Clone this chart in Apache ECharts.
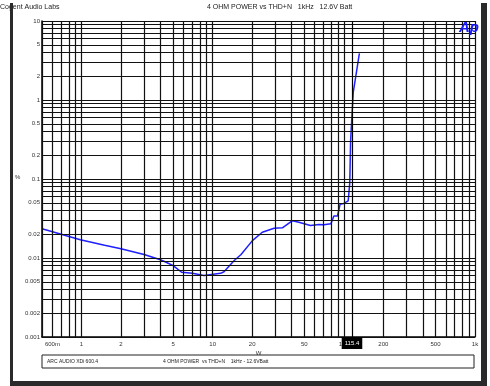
<!DOCTYPE html>
<html>
<head>
<meta charset="utf-8">
<script src="https://cdn.jsdelivr.net/npm/echarts@6/dist/echarts.min.js"></script>
<style>
html,body{margin:0;padding:0;background:#fff;}
#chart{width:490px;height:386px;}
</style>
</head>
<body>
<div id="chart"></div>
<script>
// ---- data ----
const powerW = [0.5, 0.98, 1.5, 2.0, 3.0, 4.0, 4.5, 5.0, 5.8, 7.0, 8.6, 11.5, 12.2, 14.6, 16.4, 20.1, 23.9, 29.4, 34.0, 40.6, 45.4, 55.7, 64.7, 70.5, 79.7, 84.0, 89.5, 93.7, 100, 108, 111, 112.6, 116.2, 118, 121.6, 131.4];
const thdPct = [0.0234, 0.017, 0.0145, 0.0131, 0.0111, 0.0095, 0.0087, 0.008, 0.0066, 0.0064, 0.006, 0.0064, 0.0067, 0.0093, 0.011, 0.0166, 0.0212, 0.0238, 0.0241, 0.0297, 0.0283, 0.0258, 0.0265, 0.0263, 0.0271, 0.034, 0.034, 0.048, 0.049, 0.053, 0.09, 0.3, 0.8, 1.25, 1.25, 3.9];

const xGridValues = [0.5,0.6,0.7,0.8,0.9,1,2,3,4,5,6,7,8,9,10,20,30,40,50,60,70,80,90,100,200,300,400,500,600,700,800,900,1000];
const yGridValues = [0.001,0.002,0.003,0.004,0.005,0.006,0.007,0.008,0.009,0.01,0.02,0.03,0.04,0.05,0.06,0.07,0.08,0.09,0.1,0.2,0.3,0.4,0.5,0.6,0.7,0.8,0.9,1,2,3,4,5,6,7,8,9,10];
const xTickValues = [0.6, 1, 2, 5, 10, 20, 50, 100, 200, 500, 1000];
const xTickLabels = ['600m', '1', '2', '5', '10', '20', '50', '100', '200', '500', '1k'];
const yTickValues = [10, 5, 2, 1, 0.5, 0.2, 0.1, 0.05, 0.02, 0.01, 0.005, 0.002, 0.001];
const yTickLabels = ['10', '5', '2', '1', '0.5', '0.2', '0.1', '0.05', '0.02', '0.01', '0.005', '0.002', '0.001'];
const cursorW = 115.4;
const cursorLabel = '115.4';

const titleLeft = 'Cogent Audio Labs';
const titleCenter = '4 OHM POWER vs THD+N   1kHz   12.6V Batt';
const footLeft = 'ARC AUDIO XDi 600.4';
const footCenter = '4 OHM POWER  vs THD+N    1kHz - 12.6VBatt';

// ---- build ----
const FONT = '"Liberation Sans", Arial, sans-serif';
const gridColor = '#111';

const markData = [];
xGridValues.forEach(v => {
  const i = xTickValues.indexOf(v);
  const d = { xAxis: v, lineStyle: { color: gridColor, width: 1.2, type: 'solid' } };
  if (i >= 0) {
    d.label = { show: true, position: 'start', formatter: xTickLabels[i], color: '#333', fontSize: 6, fontFamily: FONT, distance: 4 };
  }
  markData.push(d);
});
yGridValues.forEach(v => {
  const i = yTickValues.indexOf(v);
  const d = { yAxis: v, lineStyle: { color: gridColor, width: 1.2, type: 'solid' } };
  if (i >= 0) {
    d.label = { show: true, position: 'start', formatter: yTickLabels[i], color: '#333', fontSize: 6, fontFamily: FONT, distance: 2 };
  }
  markData.push(d);
});

const chart = echarts.init(document.getElementById('chart'), null, { renderer: 'canvas' });
chart.setOption({
  animation: false,
  backgroundColor: '#fff',
  textStyle: { fontFamily: FONT },
  grid: { left: 42, right: 15, top: 21, bottom: 49 },
  xAxis: {
    type: 'log', logBase: 10, min: 0.5, max: 1000,
    name: 'W', nameLocation: 'middle', nameGap: 13,
    nameTextStyle: { fontSize: 6, color: '#333', fontFamily: FONT },
    axisLine: { show: true, lineStyle: { color: '#000', width: 1.5 } },
    axisTick: { show: false }, axisLabel: { show: false }, splitLine: { show: false }
  },
  yAxis: {
    type: 'log', logBase: 10, min: 0.001, max: 10,
    axisLine: { show: true, lineStyle: { color: '#000', width: 1.5 } },
    axisTick: { show: false }, axisLabel: { show: false }, splitLine: { show: false }
  },
  series: [
    {
      type: 'line', data: [], silent: true, z: 1,
      markLine: { silent: true, symbol: 'none', animation: false, precision: 6, label: { show: false }, data: markData }
    },
    {
      type: 'line', z: 3, silent: true,
      data: powerW.map((w, i) => [w, thdPct[i]]),
      showSymbol: false, symbol: 'none',
      lineStyle: { color: '#1f1fff', width: 1.5 }
    },
    {
      type: 'line', data: [], silent: true, z: 4,
      markLine: {
        silent: true, symbol: 'none', animation: false, precision: 6,
        data: [{
          xAxis: cursorW,
          lineStyle: { color: '#000', width: 1.2, type: 'solid' },
          label: { show: true, position: 'start', formatter: cursorLabel, color: '#fff', backgroundColor: '#000', fontSize: 6, fontFamily: FONT, padding: [3, 3, 3, 3], distance: 0 }
        }]
      }
    }
  ],
  graphic: [
    { type: 'text', left: 0, top: 4, style: { text: titleLeft, fontSize: 7, fontFamily: FONT, fill: '#222' } },
    { type: 'text', left: 207, top: 4, style: { text: titleCenter, fontSize: 7, fontFamily: FONT, fill: '#222' } },
    { type: 'text', left: 15, top: 174, style: { text: '%', fontSize: 6, fontFamily: FONT, fill: '#333' } },
    { type: 'text', left: 459, top: 20, z: 10, style: { text: 'Ap', fontSize: 15, fontWeight: 900, fontStyle: 'italic', fontFamily: FONT, fill: '#1a1aff' } },
    { type: 'rect', shape: { x: 42, y: 355, width: 432, height: 13 }, style: { fill: 'none', stroke: '#222', lineWidth: 1 } },
    { type: 'text', left: 47, top: 359, style: { text: footLeft, fontSize: 5, fontFamily: FONT, fill: '#222' } },
    { type: 'text', left: 163, top: 359, style: { text: footCenter, fontSize: 5, fontFamily: FONT, fill: '#222' } },
    { type: 'rect', shape: { x: 10, y: 3, width: 3, height: 383 }, style: { fill: '#2a2a2a' } },
    { type: 'rect', shape: { x: 481, y: 3, width: 6, height: 383 }, style: { fill: '#2a2a2a' } },
    { type: 'rect', shape: { x: 10, y: 381, width: 477, height: 5 }, style: { fill: '#2a2a2a' } }
  ]
});
</script>
</body>
</html>
